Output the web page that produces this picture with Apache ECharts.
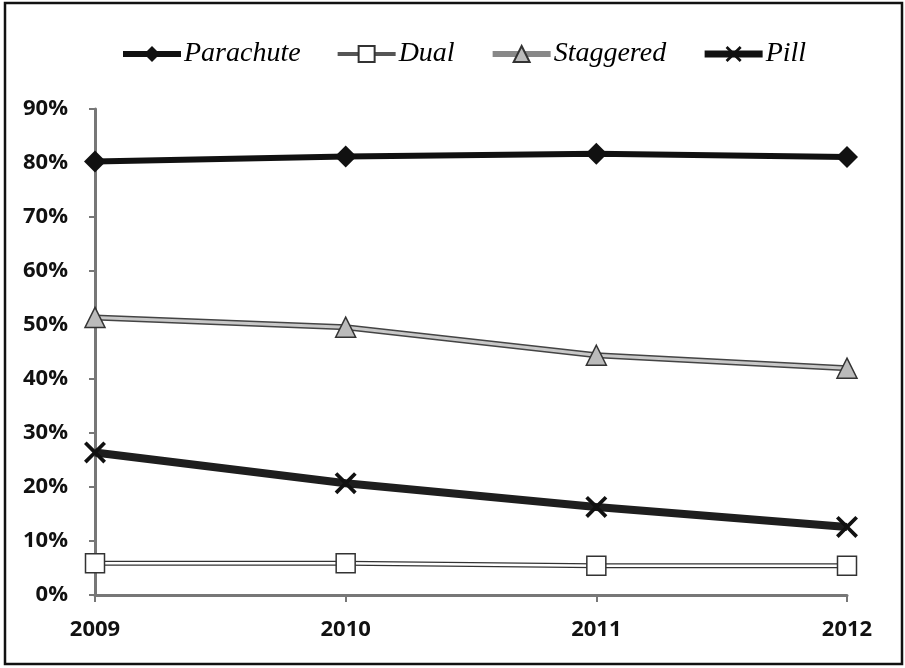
<!DOCTYPE html>
<html><head><meta charset="utf-8">
<script src="https://cdn.jsdelivr.net/npm/echarts@6/dist/echarts.min.js"></script>
<style>html,body{margin:0;padding:0;background:#fff}#c{width:905px;height:668px}</style>
</head><body><div id="c"></div>
<script>
const years = ['2009', '2010', '2011', '2012'];
const yTicks = [0, 10, 20, 30, 40, 50, 60, 70, 80, 90];
const parachute = [80.3, 81.2, 81.7, 81.1];
const dual = [5.9, 5.9, 5.4, 5.4];
const staggered = [51.4, 49.6, 44.4, 42.0];
const pill = [26.4, 20.7, 16.3, 12.6];

const xPath = 'path://M0,1.2 L1.2,0 L5,3.8 L8.8,0 L10,1.2 L6.2,5 L10,8.8 L8.8,10 L5,6.2 L1.2,10 L0,8.8 L3.8,5 Z';
const chart = echarts.init(document.getElementById('c'));
chart.setOption({
  animation: false,
  backgroundColor: '#fff',
  graphic: [{type: 'rect', shape: {x: 5, y: 3, width: 897, height: 661}, style: {fill: 'none', stroke: '#111', lineWidth: 2.5}, silent: true}],
  legend: {
    top: 35, left: 115,
    data: [
      {name: 'Parachute', lineStyle: {width: 6, color: '#111'}},
      {name: 'Dual', lineStyle: {width: 4, color: '#555'}},
      {name: 'Staggered', lineStyle: {width: 6, color: '#888'}},
      {name: 'Pill', lineStyle: {width: 7, color: '#111'}}
    ],
    itemWidth: 58, itemHeight: 20, itemGap: 35,
    textStyle: {fontFamily: 'Liberation Serif', fontStyle: 'italic', fontSize: 28, color: '#000', padding: [0, 0, 0, -2]}
  },
  grid: {left: 95, right: 58, top: 109, bottom: 73},
  xAxis: {
    type: 'category', data: years, boundaryGap: false,
    axisLine: {lineStyle: {color: '#777', width: 3}},
    axisTick: {show: true, length: 7, lineStyle: {color: '#777', width: 2}},
    axisLabel: {fontFamily: 'Open Sans', fontWeight: 'bold', fontSize: 22, color: '#111', margin: 24}
  },
  yAxis: {
    type: 'value', min: 0, max: 90, interval: 10,
    axisLine: {show: true, lineStyle: {color: '#777', width: 3}},
    axisTick: {show: true, length: 6, lineStyle: {color: '#777', width: 2}},
    splitLine: {show: false},
    axisLabel: {formatter: v => yTicks.includes(v) ? v + '%' : '', fontFamily: 'Open Sans', fontWeight: 'bold', fontSize: 22, color: '#111', margin: 27}
  },
  series: [
    {name: 'Parachute', type: 'line', data: parachute, symbol: 'diamond', symbolSize: [22, 22],
     lineStyle: {color: '#111', width: 6}, itemStyle: {color: '#111'}, z: 5},
    {name: '_dualEdge', type: 'line', data: dual, symbol: 'none',
     lineStyle: {color: '#333', width: 5}, z: 2, silent: true},
    {name: 'Dual', type: 'line', data: dual, symbol: 'rect', symbolSize: 19,
     lineStyle: {color: '#fff', width: 2.5}, itemStyle: {color: '#fff', borderColor: '#333', borderWidth: 1.5}, z: 3},
    {name: '_stagEdge', type: 'line', data: staggered, symbol: 'none',
     lineStyle: {color: '#444', width: 6}, z: 2, silent: true},
    {name: 'Staggered', type: 'line', data: staggered, symbol: 'triangle', symbolSize: 20,
     lineStyle: {color: '#c8c8c8', width: 3}, itemStyle: {color: '#bbb', borderColor: '#333', borderWidth: 1.5}, z: 3},
    {name: 'Pill', type: 'line', data: pill, symbol: xPath, symbolSize: 22,
     lineStyle: {color: '#1e1e1e', width: 8}, itemStyle: {color: '#111'}, z: 4}
  ]
});
</script></body></html>
